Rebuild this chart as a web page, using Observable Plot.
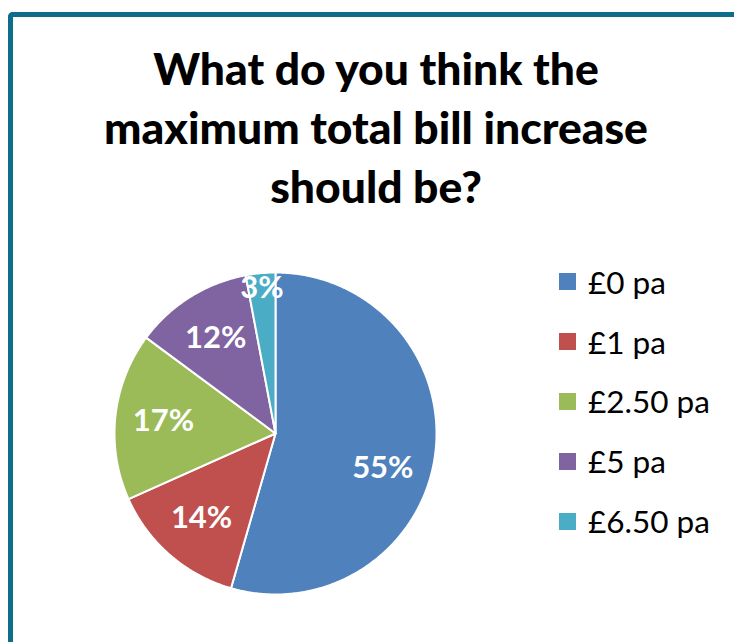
<!DOCTYPE html>
<html>
<head>
<meta charset="utf-8">
<script src="https://cdn.jsdelivr.net/npm/d3@7"></script>
<script src="https://cdn.jsdelivr.net/npm/@observablehq/plot@0.6"></script>
<style>
  html, body { margin: 0; padding: 0; background: #fff; }
  #page { position: relative; width: 734px; height: 642px; overflow: hidden; background: #fff; font-family: Lato, "Open Sans", sans-serif; }
  #frame { position: absolute; left: 8px; top: 12px; width: 800px; height: 700px; border-left: 5px solid #0F6D8C; border-top: 5px solid #0F6D8C; border-top-left-radius: 5px; box-sizing: border-box; }
  #title { position: absolute; left: 0; width: 752px; top: 38px; text-align: center; font-weight: 900; color: #000; line-height: 59px; white-space: nowrap; }
  #chart { position: absolute; left: 0; top: 220px; }
  #legend { position: absolute; left: 559px; top: 252px; }
  .item { display: flex; align-items: center; height: 59.8px; font-size: 31.5px; color: #000; }
  .sw { width: 17px; height: 17px; margin-right: 12px; flex: none; }
</style>
</head>
<body>
<div id="page">
  <div id="frame"></div>
  <div id="title"><div id="t1">What do you think the</div><div id="t2">maximum total bill increase</div><div id="t3">should be?</div></div>
  <div id="chart"></div>
  <div id="legend"></div>
</div>
<script>
const categories = ["£0 pa", "£1 pa", "£2.50 pa", "£5 pa", "£6.50 pa"];
const values = [55, 14, 17, 12, 3];
const labels = ["55%", "14%", "17%", "12%", "3%"];
const colors = ["#4F81BD", "#C0504D", "#9BBB59", "#8064A2", "#4BACC6"];

// fit title font size to the reference line width
const title = document.getElementById("title");
let fs = 36;
title.style.fontSize = fs + "px";
const t2 = document.getElementById("t2");
const span = document.createElement("span");
span.textContent = t2.textContent; t2.textContent = ""; t2.appendChild(span);
const w = span.getBoundingClientRect().width;
fs = fs * 544 / w;
title.style.fontSize = fs + "px";

const data = categories.map((c, i) => ({category: c, value: values[i], label: labels[i]}));
const arcs = d3.pie().sort(null).value(d => d.value)(data);
const total = d3.sum(values);

const polys = [];
for (const a of arcs) {
  polys.push({key: a.data.category, x: 0, y: 0});
  const n = Math.max(2, Math.ceil((a.endAngle - a.startAngle) / 0.01));
  for (let k = 0; k <= n; k++) {
    const t = a.startAngle + (a.endAngle - a.startAngle) * k / n;
    polys.push({key: a.data.category, x: Math.sin(t), y: Math.cos(t)});
  }
  polys.push({key: a.data.category, x: 0, y: 0});
}

const labelPts = arcs.map(a => {
  const share = a.data.value / total;
  // large slices: label sits a little further round (Excel best-fit style)
  const mid = (a.startAngle + a.endAngle) / 2 + (share > 0.5 ? 0.17 : 0);
  const r = share < 0.05 ? 0.91 : 0.70;
  return {text: a.data.label, x: r * Math.sin(mid), y: r * Math.cos(mid)};
});

const plot = Plot.plot({
  width: 734,
  height: 420,
  margin: 0,
  x: {domain: [-1, 1], range: [114, 436], axis: null},
  y: {domain: [-1, 1], range: [374, 52], axis: null},
  color: {domain: categories, range: colors},
  style: {background: "transparent", overflow: "visible"},
  marks: [
    Plot.line(polys, {x: "x", y: "y", z: "key", fill: "key", stroke: "white", strokeWidth: 2, strokeLinejoin: "round"}),
    Plot.text(labelPts, {x: "x", y: "y", text: "text", fill: "white", fontSize: 31, fontWeight: "bold", fontFamily: "Lato, sans-serif"})
  ]
});
document.getElementById("chart").appendChild(plot);

const legend = document.getElementById("legend");
categories.forEach((c, i) => {
  const it = document.createElement("div");
  it.className = "item";
  const sw = document.createElement("span");
  sw.className = "sw"; sw.style.background = colors[i];
  const tx = document.createElement("span");
  tx.textContent = c;
  it.appendChild(sw); it.appendChild(tx);
  legend.appendChild(it);
});
</script>
</body>
</html>
